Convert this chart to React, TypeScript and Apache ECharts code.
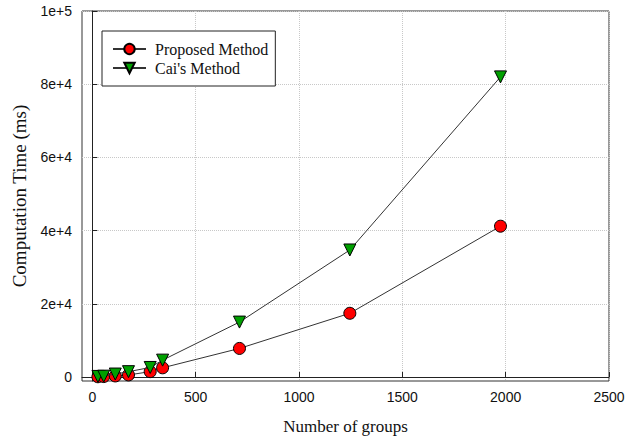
import React, { useEffect, useRef } from "react";
import * as echarts from "echarts";

const groups = [27, 55, 111, 175, 280, 340, 712, 1246, 1975];
const proposed = [60, 110, 280, 560, 1450, 2500, 7800, 17400, 41200];
const cai = [150, 220, 800, 1450, 2600, 4600, 15000, 34700, 82000];
const xTicks = [0, 500, 1000, 1500, 2000, 2500];
const yTicks = [0, 20000, 40000, 60000, 80000, 100000];

export default function App() {
  const ref = useRef<HTMLDivElement>(null);
  useEffect(() => {
    const chart = echarts.init(ref.current!, null, { renderer: "svg" });
    const gridLine = { show: true, lineStyle: { color: "#c8c8c8", type: "dotted", width: 1 } };
    chart.setOption({
      animation: false,
      backgroundColor: "#fff",
      grid: { left: 82, right: 28, top: 11, bottom: 60, show: true, borderColor: "#333", borderWidth: 1, backgroundColor: "transparent" },
      legend: {
        orient: "vertical",
        left: 102,
        top: 31,
        padding: [10, 7, 10, 10],
        itemGap: 3,
        itemWidth: 33,
        itemHeight: 13,
        borderColor: "#222",
        borderWidth: 1,
        backgroundColor: "#fff",
        textStyle: { fontFamily: "Liberation Serif", fontSize: 16, lineHeight: 16, color: "#111", padding: [0, 0, 0, 4] },
        data: ["Proposed Method", "Cai's Method"],
      },
      xAxis: {
        type: "value",
        min: -50,
        max: 2500,
        name: "Number of groups",
        nameLocation: "middle",
        nameGap: 37,
        nameTextStyle: { fontFamily: "Liberation Serif", fontSize: 17, color: "#111" },
        axisLine: { show: true, lineStyle: { color: "#222" } },
        axisTick: { show: true, inside: true, length: 5, customValues: xTicks, lineStyle: { color: "#222" } },
        axisLabel: { customValues: xTicks, fontFamily: "Liberation Sans", fontSize: 14, color: "#111", margin: 9, formatter: (v: number) => String(v) },
        splitLine: gridLine,
      },
      yAxis: {
        type: "value",
        min: -1100,
        max: 100000,
        name: "Computation Time (ms)",
        nameLocation: "middle",
        nameGap: 53,
        nameTextStyle: { fontFamily: "Liberation Serif", fontSize: 19, color: "#111" },
        axisLine: { show: true, lineStyle: { color: "#222" } },
        axisTick: { show: true, inside: true, length: 5, customValues: yTicks, lineStyle: { color: "#222" } },
        axisLabel: {
          customValues: yTicks,
          fontFamily: "Liberation Sans",
          fontSize: 14,
          color: "#111",
          margin: 10,
          formatter: (v: number) => (v === 0 ? "0" : v.toExponential(0)),
        },
        splitLine: gridLine,
      },
      series: [
        {
          name: "Proposed Method",
          type: "line",
          data: groups.map((g, i) => [g, proposed[i]]),
          symbol: "circle",
          symbolSize: 12,
          lineStyle: { color: "#333", width: 1 },
          itemStyle: { color: "#ff0000", borderColor: "#000", borderWidth: 1 },
          z: 3,
        },
        {
          name: "Cai's Method",
          type: "line",
          data: groups.map((g, i) => [g, cai[i]]),
          symbol: "triangle",
          symbolRotate: 180,
          symbolSize: 12,
          lineStyle: { color: "#333", width: 1 },
          itemStyle: { color: "#00a000", borderColor: "#000", borderWidth: 1 },
          z: 4,
        },
      ],
    });
    return () => chart.dispose();
  }, []);
  return <div ref={ref} style={{ position: "fixed", left: 0, top: 0, width: 637, height: 441 }} />;
}
